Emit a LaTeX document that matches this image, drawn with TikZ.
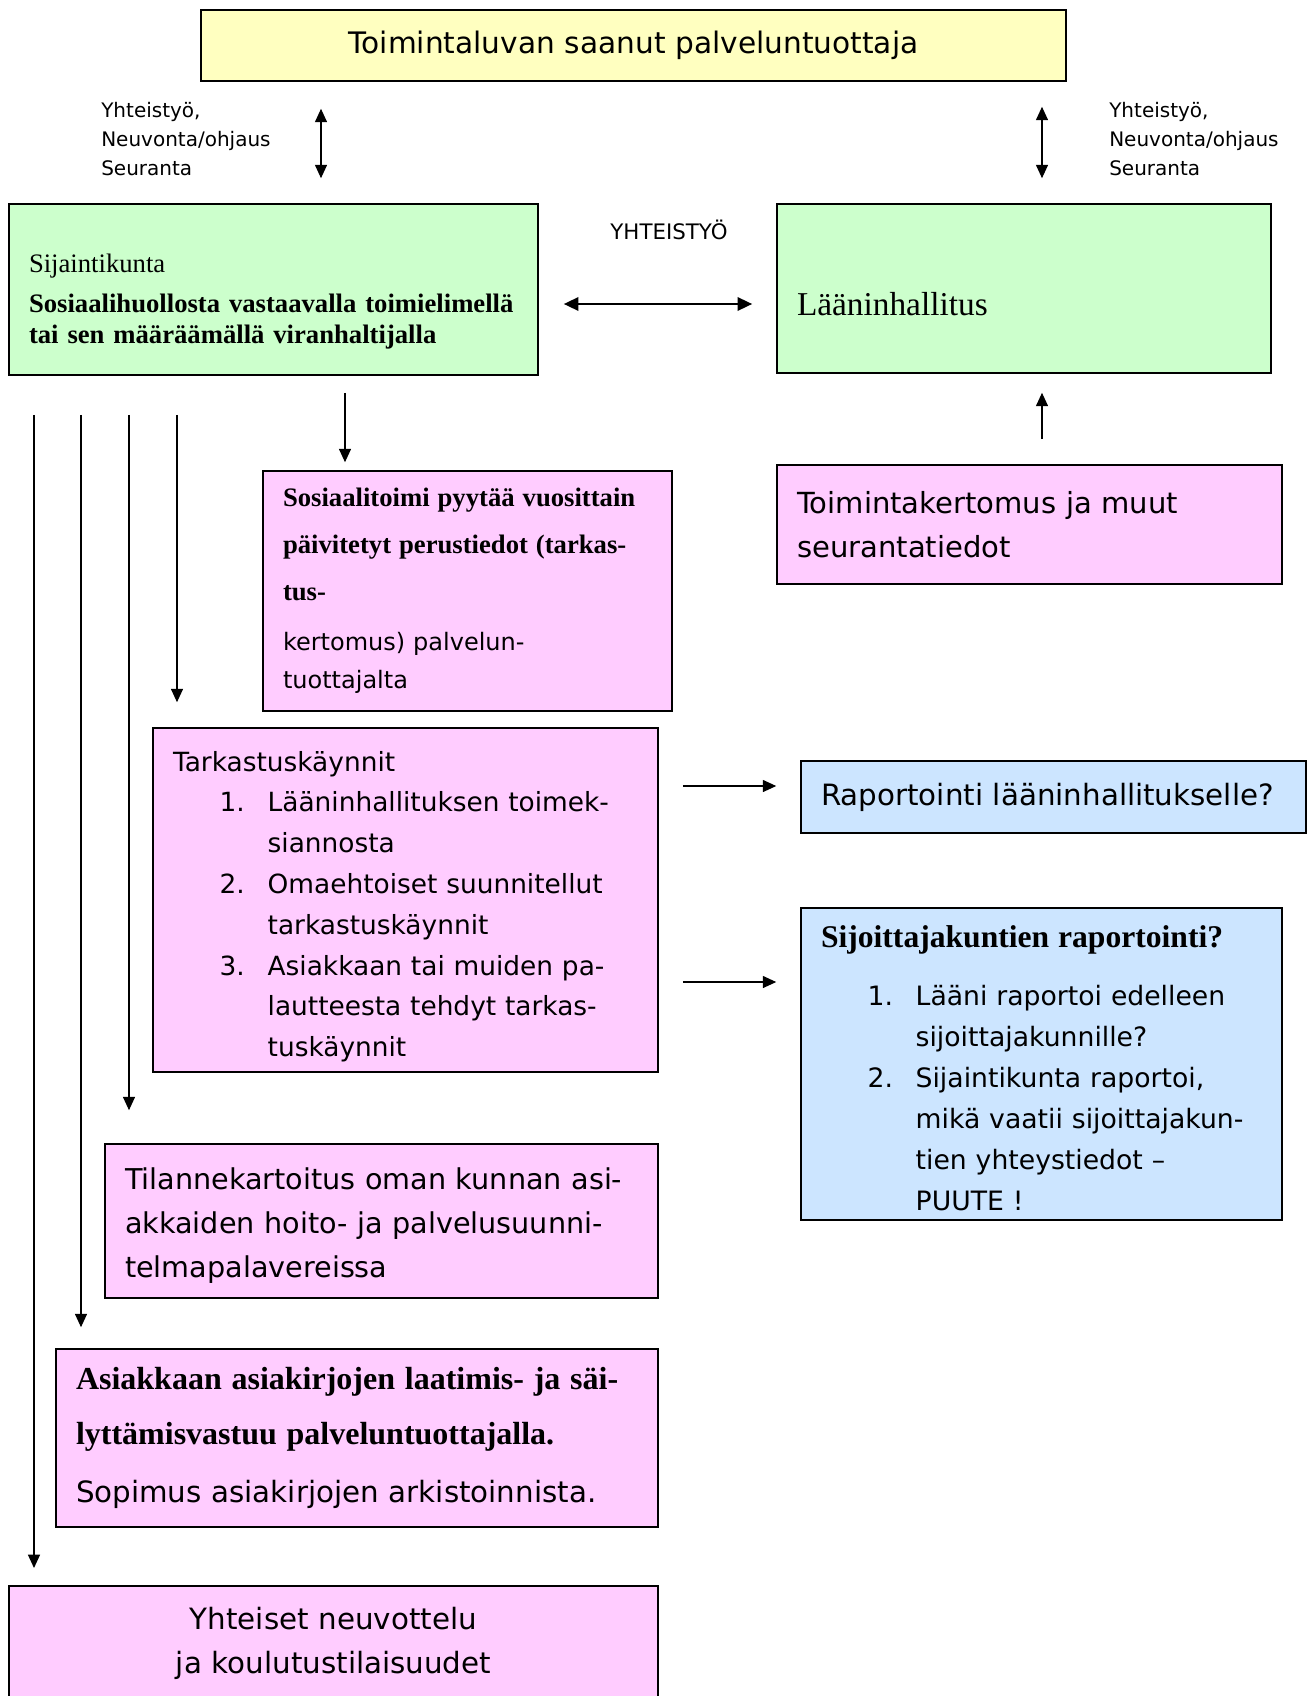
\documentclass[tikz,border=0pt]{standalone}
\usepackage{fontspec}
\setmainfont{Liberation Serif}
\setsansfont{DejaVu Sans}
\usetikzlibrary{arrows.meta}

\definecolor{boxyellow}{RGB}{255,255,192}
\definecolor{boxgreen}{RGB}{204,255,204}
\definecolor{boxpink}{RGB}{255,204,255}
\definecolor{boxblue}{RGB}{204,229,255}

% numbered lines in the lists
\newcommand{\listno}[1]{\hspace*{35pt}\makebox[36pt][l]{#1}}
\newcommand{\listin}{\hspace*{71pt}}
\newcommand{\bser}[2][20]{{\rmfamily\bfseries\fontsize{#1}{#1}\selectfont #2}}
\newcommand{\lift}[1]{\rule{0pt}{#1}}

\begin{document}
\begin{tikzpicture}[x=0.75pt,y=-0.75pt,
  box/.style={draw, line width=1.2pt, inner xsep=15pt, inner ysep=3pt, align=left},
  label/.style={font=\sffamily\fontsize{15}{22}\selectfont, align=left, inner sep=0pt},
  arr/.style={-{Triangle[length=10pt,width=9pt]}, line width=0.9pt},
  dbl/.style={{Triangle[length=10pt,width=9pt]}-{Triangle[length=10pt,width=9pt]}, line width=0.9pt}]
\useasboundingbox (0,0) rectangle (1307,1696);

\node[box, fill=boxyellow, align=center, text width=618.75pt, minimum height=53.25pt,
  font=\sffamily\fontsize{22.2}{26}\selectfont] (top) at (633.5,45.5) {Toimintaluvan saanut palveluntuottaja};

\node[label, anchor=west] (lbll) at (101,139) {Yhteistyö,\\Neuvonta/ohjaus\\Seuranta};
\node[label, anchor=west] (lblr) at (1109,139) {Yhteistyö,\\Neuvonta/ohjaus\\Seuranta};

% green ones
\node[box, fill=boxgreen, text width=366.75pt, minimum height=128.25pt,
  font=\rmfamily\fontsize{20}{23.5}\selectfont] (sij) at (273.5,289.5)
  {\lift{32pt}Sijaintikunta\\[6.5pt]\textbf{Sosiaalihuollosta vastaavalla toimielimellä}\\\textbf{tai sen määräämällä viranhaltijalla}};
\node[box, fill=boxgreen, text width=340.5pt, minimum height=126.75pt,
  font=\rmfamily\fontsize{25}{30}\selectfont] (lan) at (1024,288.5) {\lift{41pt}Lääninhallitus};
\node[font=\sffamily\fontsize{16}{19}\selectfont] (yhteis) at (669,230) {YHTEISTYÖ};

% pink ones
\node[box, fill=boxpink, text width=276.75pt, minimum height=180pt,
  font=\sffamily\fontsize{18}{28.5}\selectfont] (pyyt) at (467.5,591)
  {\bser{Sosiaalitoimi pyytää vuosittain}\\[6.5pt]\bser{päivitetyt perustiedot (tarkas-}\\[6.5pt]\bser{tus-}\\[9.5pt]kertomus) palvelun-\\tuottajalta};
\node[box, fill=boxpink, text width=348.75pt, minimum height=89.25pt,
  font=\sffamily\fontsize{21.8}{33}\selectfont] (kert) at (1029.5,524.5) {Toimintakertomus ja muut\\seurantatiedot};
\node[box, fill=boxpink, text width=348.75pt, minimum height=258pt,
  font=\sffamily\fontsize{19.8}{30.6}\selectfont] (tark) at (405.5,900)
  {\lift{25pt}Tarkastuskäynnit\\\listno{1.}Lääninhallituksen toimek-\\\listin siannosta\\\listno{2.}Omaehtoiset suunnitellut\\\listin tarkastuskäynnit\\\listno{3.}Asiakkaan tai muiden pa-\\\listin lautteesta tehdyt tarkas-\\\listin tuskäynnit};
\node[box, fill=boxpink, text width=384.75pt, minimum height=115.5pt,
  font=\sffamily\fontsize{21.5}{33}\selectfont] (tila) at (381.5,1221)
  {\lift{22.5pt}Tilannekartoitus oman kunnan asi-\\akkaiden hoito- ja palvelusuunni-\\telmapalavereissa};
\node[box, fill=boxpink, text width=421.5pt, minimum height=133.5pt,
  font=\sffamily\fontsize{22}{41}\selectfont] (asia) at (357,1438)
  {\bser[24]{Asiakkaan asiakirjojen laatimis- ja säi-}\\\bser[24]{lyttämisvastuu palveluntuottajalla.}\\[2.5pt]Sopimus asiakirjojen arkistoinnista.};
\node[box, fill=boxpink, anchor=north, align=center, text width=456.75pt, inner ysep=16pt,
  font=\sffamily\fontsize{22}{33}\selectfont] (yht) at (333.5,1585)
  {Yhteiset neuvottelu\\ja koulutustilaisuudet\\[30pt]\strut};

% blue ones
\node[box, fill=boxblue, text width=348.75pt, minimum height=54pt,
  font=\sffamily\fontsize{22}{26}\selectfont] (rap) at (1053.5,797) {Raportointi lääninhallitukselle?};
\node[box, fill=boxblue, text width=330.75pt, minimum height=234pt,
  font=\sffamily\fontsize{20}{30.75}\selectfont] (sijo) at (1041.5,1064)
  {\lift{23pt}\bser[23.7]{Sijoittajakuntien raportointi?}\\[13pt]\listno{1.}Lääni raportoi edelleen\\\listin sijoittajakunnille?\\\listno{2.}Sijaintikunta raportoi,\\\listin mikä vaatii sijoittajakun-\\\listin tien yhteystiedot --\\\listin PUUTE !};

% arrows
\coordinate (cl) at (321,0);
\coordinate (cr) at (1042,0);
\coordinate (cd) at (345,0);
\coordinate (mid) at (0,304);
\coordinate (r1) at (0,786);
\coordinate (r2) at (0,982);
\draw[dbl, shorten <=20.25pt, shorten >=18.75pt] (top.south -| cl) -- (sij.north -| cl);
\draw[dbl, shorten <=18.75pt, shorten >=18.75pt] (top.south -| cr) -- (lan.north -| cr);
\draw[{Triangle[length=11pt,width=10pt]}-{Triangle[length=11pt,width=10pt]}, line width=1.8pt,
  shorten <=18.75pt, shorten >=18pt] (sij.east |- mid) -- (lan.west |- mid);
\draw[arr, shorten <=12.75pt, shorten >=6pt] (sij.south -| cd) -- (pyyt.north -| cd);
\draw[arr, shorten <=18.75pt, shorten >=14.25pt] (kert.north -| cr) -- (lan.south -| cr);
\foreach \x/\goal/\gap in {34/yht/12.75, 81/asia/15.75, 129/tila/24.75, 177/tark/18.75}
  \draw[arr, shorten <=29.25pt, shorten >=\gap pt] (sij.south -| \x,0) -- (\goal.north -| \x,0);
\draw[arr, shorten <=18pt, shorten >=18pt] (tark.east |- r1) -- (rap.west |- r1);
\draw[arr, shorten <=18pt, shorten >=18pt] (tark.east |- r2) -- (sijo.west |- r2);

\end{tikzpicture}
\end{document}
